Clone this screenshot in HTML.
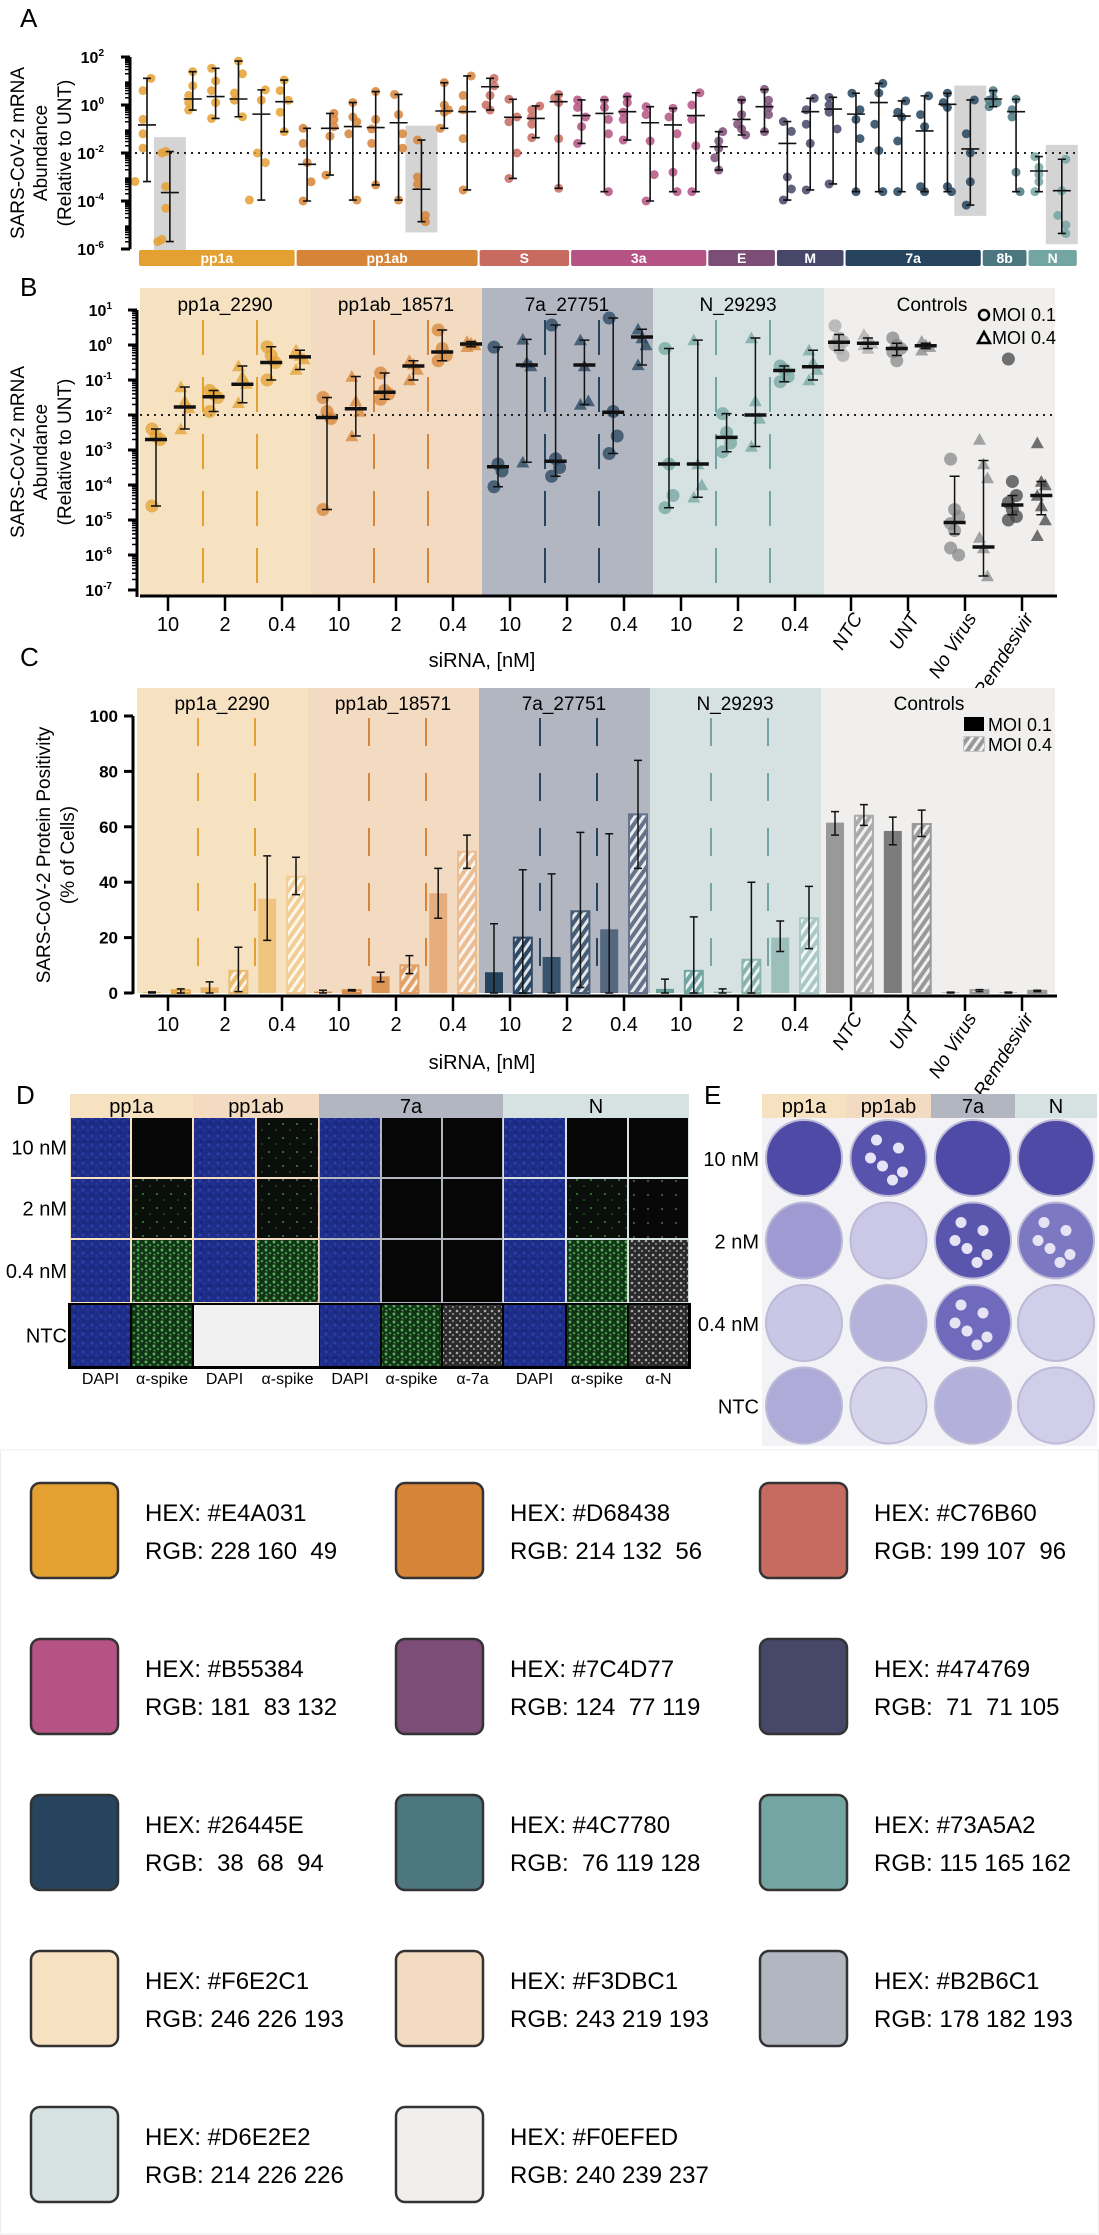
<!DOCTYPE html>
<html><head><meta charset="utf-8">
<style>
html,body{margin:0;padding:0;background:#fff;}
svg{display:block;font-family:"Liberation Sans",sans-serif;}
.n{font-family:"Liberation Sans Narrow","Liberation Sans",sans-serif;}
.pre{white-space:pre;}
</style></head>
<body>
<svg id="fig" width="1099" height="2235" viewBox="0 0 1099 2235" xmlns="http://www.w3.org/2000/svg">
<defs>
<pattern id="hatch" width="7" height="7" patternUnits="userSpaceOnUse" patternTransform="rotate(35)"><rect width="3" height="7" fill="#fff" fill-opacity="0.85"/></pattern>
<pattern id="dapi" width="9" height="9" patternUnits="userSpaceOnUse"><rect width="9" height="9" fill="#1d2c86"/><circle cx="2" cy="2" r="1.6" fill="#2a3ea6"/><circle cx="6.5" cy="5" r="1.4" fill="#24379a"/><circle cx="3" cy="7.5" r="1" fill="#14206a"/></pattern>
<pattern id="blk" width="9" height="9" patternUnits="userSpaceOnUse"><rect width="9" height="9" fill="#060606"/></pattern>
<pattern id="g1" width="14" height="14" patternUnits="userSpaceOnUse"><rect width="14" height="14" fill="#0b0f0b"/><circle cx="3" cy="4" r="1" fill="#3c8a3c"/><circle cx="10" cy="10" r="0.8" fill="#2f6f2f"/></pattern>
<pattern id="g2" width="8" height="8" patternUnits="userSpaceOnUse"><rect width="8" height="8" fill="#14301a"/><circle cx="2" cy="2" r="1.5" fill="#4caf4c"/><circle cx="6" cy="5" r="1.3" fill="#3a9a3a"/><circle cx="2.5" cy="6.5" r="0.9" fill="#5bc05b"/></pattern>
<pattern id="w0" width="14" height="14" patternUnits="userSpaceOnUse"><rect width="14" height="14" fill="#080808"/><circle cx="4" cy="5" r="0.9" fill="#777"/></pattern>
<pattern id="w2" width="7" height="7" patternUnits="userSpaceOnUse"><rect width="7" height="7" fill="#2a2a2a"/><circle cx="2" cy="2" r="1.3" fill="#aaa"/><circle cx="5" cy="5" r="1.1" fill="#888"/></pattern>
</defs>

<text x="20" y="27" font-size="26">A</text>
<text x="20" y="296" font-size="26">B</text>
<text x="20" y="666" font-size="26">C</text>
<text x="16" y="1104" font-size="26">D</text>
<text x="704" y="1104" font-size="26">E</text>

<g font-size="19" text-anchor="middle">
<text transform="translate(24,153) rotate(-90)">SARS-CoV-2 mRNA</text>
<text transform="translate(47,153) rotate(-90)">Abundance</text>
<text transform="translate(71,153) rotate(-90)">(Relative to UNT)</text>
</g>
<g font-size="19" text-anchor="middle">
<text transform="translate(24,452) rotate(-90)">SARS-CoV-2 mRNA</text>
<text transform="translate(47,452) rotate(-90)">Abundance</text>
<text transform="translate(71,452) rotate(-90)">(Relative to UNT)</text>
</g>
<g font-size="19" text-anchor="middle">
<text transform="translate(50,855) rotate(-90)">SARS-CoV-2 Protein Positivity</text>
<text transform="translate(74,855) rotate(-90)">(% of Cells)</text>
</g>
<text class="n" x="482" y="667" font-size="20" text-anchor="middle">siRNA, [nM]</text>
<text class="n" x="482" y="1069" font-size="20" text-anchor="middle">siRNA, [nM]</text>

<g id="gA"></g>
<g id="gB"></g>
<g id="gC"></g>
<g id="gD"></g>
<g id="gE"></g>

<g class="n" font-size="18">
<circle cx="984" cy="315" r="5" fill="none" stroke="#000" stroke-width="2.5"/>
<text x="992" y="321">MOI 0.1</text>
<path d="M978 343 L984 332 L990 343 Z" fill="none" stroke="#000" stroke-width="2.5"/>
<text x="992" y="344">MOI 0.4</text>
</g>
<g class="n" font-size="18">
<rect x="964" y="717" width="20" height="14" fill="#000"/>
<text x="988" y="731">MOI 0.1</text>
<rect x="964" y="737" width="20" height="14" fill="#999" stroke="#999"/>
<rect x="964" y="737" width="20" height="14" fill="url(#hatch)"/>
<text x="988" y="751">MOI 0.4</text>
</g>

<g id="gS">
<rect x="0.5" y="1450" width="1098" height="784" fill="none" stroke="#eee"/>
</g>
</svg>

<script>
// ---------- Panel A data ----------
const catsA = ['pp1a','pp1ab','S','3a','E','M','7a','8b','N'];
const catCountsA = [7,8,4,6,3,3,6,2,2];
const medA = [-0.83,-3.65,0.25,0.35,0.25,-0.38,0.14,-2.47,-0.97,-0.90,-0.94,-0.74,-3.51,-0.25,-0.28,0.76,-0.51,-0.56,0.14,-0.44,-0.35,-0.28,-0.74,-0.83,-0.44,-1.74,-0.60,-0.07,-1.60,-0.28,-0.17,-0.38,0.10,-0.46,-1.08,0.03,-1.83,0.25,-0.28,-2.75,-3.57];
const hiA = [1.11,-1.94,1.39,1.53,1.83,0.63,1.04,-0.97,-0.35,0.10,0.56,0.44,-1.46,0.93,1.21,1.11,0.24,-0.04,0.44,0.21,0.21,0.35,-0.07,-0.14,0.51,-1.11,0.21,0.65,-0.69,0.28,0.32,0.49,0.90,0.17,0.38,0.49,0.21,0.60,0.24,-2.15,-2.26];
const loA = [-3.19,-5.69,-0.21,-0.56,-0.49,-3.96,-1.11,-4.0,-2.92,-3.96,-3.33,-3.96,-4.86,-0.97,-3.54,-0.21,-3.06,-1.36,-3.47,-1.60,-3.61,-1.46,-4.0,-3.61,-3.61,-2.71,-1.25,-1.11,-3.96,-3.54,-3.29,-3.61,-3.61,-3.61,-3.61,-3.61,-4.17,-0.07,-3.61,-3.61,-5.35];
const ptsA = [
[1.11,0.6,-0.6,-1.2,-1.8,-3.19],[-1.94,-2.0,-3.4,-4.3,-5.69,-5.6],[1.39,0.8,0.4,0.1,-0.21],[1.53,1.0,0.6,0.1,-0.56],
[1.83,1.3,0.5,0.2,-0.49],[0.63,0.2,-2.0,-2.4,-3.96],[1.04,0.6,0.2,-0.3,-1.11],[-0.97,-1.6,-2.4,-3.2,-4.0],
[-0.35,-0.6,-0.9,-1.3,-2.92],[0.10,-0.5,-0.7,-1.2,-3.96],[0.56,-0.6,-1.0,-1.6,-3.33],[0.44,-0.4,-1.2,-1.8,-3.96],
[-1.46,-3.0,-3.3,-4.6,-4.86],[0.93,0.0,-0.2,-0.3,-0.97],[1.21,0.4,-0.2,-1.4,-3.54],[1.11,0.8,0.4,0.0,-0.21],
[0.24,-0.5,-0.7,-2.0,-3.06],[-0.04,-0.2,-0.5,-0.8,-1.36],[0.44,0.3,0.1,-1.4,-3.47],[0.21,-0.1,-0.5,-0.9,-1.60],
[0.21,-0.1,-0.6,-1.2,-3.61],[0.35,0.1,-0.3,-0.6,-1.46],[-0.07,-0.4,-1.5,-2.9,-4.0],[-0.14,-0.5,-1.2,-2.8,-3.61],
[0.51,0.0,-0.6,-1.7,-3.61],[-1.11,-1.5,-1.8,-2.2,-2.71],[0.21,-0.4,-0.8,-1.0,-1.25],[0.65,0.2,-0.1,-0.4,-1.11],
[-0.69,-1.1,-3.0,-3.5,-3.96],[0.28,-0.2,-0.8,-1.6,-3.54],[0.32,0.0,-0.3,-1.0,-3.29],[0.49,-0.2,-0.6,-1.4,-3.61],
[0.90,0.5,-0.8,-1.9,-3.61],[0.17,-0.3,-0.5,-1.5,-3.61],[0.38,-0.4,-0.9,-3.4,-3.61],[0.49,0.1,-0.1,-3.4,-3.61],
[0.21,-1.2,-2.0,-3.2,-4.17],[0.60,0.3,0.1,-0.07,0.2],[0.24,-0.2,-0.5,-2.8,-3.61],[-2.15,-2.6,-2.9,-3.2,-3.61],
[-2.26,-3.57,-4.6,-5.0,-5.35]];
const highlightA = [1,12,36,40];
const ticksA = [2,0,-2,-4,-6];
const thresholdA = -2;

// ---------- Panel B data ----------
const groupsB = ['pp1a_2290','pp1ab_18571','7a_27751','N_29293','Controls'];
const concLabels = ['10','2','0.4'];
const ctrlLabels = ['NTC','UNT','No Virus','Remdesivir'];
const medB = [-2.7,-1.77,-1.48,-1.12,-0.5,-0.34, -2.07,-1.82,-1.35,-0.6,-0.2,0.03, -3.48,-0.57,-3.32,-0.57,-1.92,0.23, -3.4,-3.4,-2.64,-2.0,-0.73,-0.62, 0.08,0.05,-0.1,-0.02,-5.07,-5.77,-4.57,-4.3];
const hiB = [-2.4,-1.2,-1.3,-0.6,-0.05,-0.15, -1.5,-0.9,-0.8,-0.45,0.43,0.1, -0.06,0.16,0.57,0.14,0.77,0.45, -0.1,0.14,-1.96,0.2,-0.6,-0.15, 0.3,0.2,0.05,0.05,-3.75,-3.3,-4.3,-3.9];
const loB = [-4.6,-2.4,-1.9,-1.65,-1.0,-0.7, -4.7,-2.6,-1.55,-1.0,-0.45,-0.05, -4.05,-3.35,-3.75,-1.7,-3.1,-0.57, -4.65,-4.35,-3.05,-2.9,-1.05,-1.0, -0.15,-0.1,-0.3,-0.1,-5.4,-6.6,-4.85,-4.85];
const ptsB = [
[-2.4,-2.6,-2.7,-4.6],[-1.2,-1.6,-1.8,-2.4],[-1.3,-1.4,-1.5,-1.9],[-0.6,-0.9,-1.1,-1.65],[-0.05,-0.3,-0.5,-1.0],[-0.15,-0.3,-0.4,-0.7],
[-1.5,-1.9,-2.1,-4.7],[-0.9,-1.6,-1.9,-2.6],[-0.8,-1.3,-1.4,-1.55],[-0.45,-0.55,-0.7,-1.0],[0.43,-0.1,-0.3,-0.45],[0.1,0.05,0.0,-0.05],
[-0.06,-3.4,-3.6,-4.05],[0.16,-0.5,-0.6,-3.35],[0.57,-3.25,-3.5,-3.75],[0.14,-0.6,-1.6,-1.7],[0.77,-1.9,-2.6,-3.1],[0.45,0.2,0.0,-0.57],
[-0.1,-3.4,-4.3,-4.65],[0.14,-3.4,-4.0,-4.35],[-1.96,-2.5,-2.8,-3.05],[0.2,-1.6,-2.1,-2.9],[-0.6,-0.7,-0.9,-1.05],[-0.15,-0.5,-0.7,-1.0],
[0.55,0.2,0.1,0.0,-0.1,-0.3],[0.3,0.15,0.05,0.0,-0.1],[0.2,0.0,-0.1,-0.2,-0.45],[0.1,0.0,-0.05,-0.15],
[-3.26,-4.7,-4.9,-5.1,-5.3,-6.0,-5.8],[-2.7,-3.4,-3.8,-5.5,-5.8,-6.6],[-0.4,-3.9,-4.3,-4.5,-4.7,-4.9,-5.0],[-2.8,-3.9,-4.0,-4.3,-4.6,-5.0,-5.45]];
const ticksB = [1,0,-1,-2,-3,-4,-5,-6,-7];

// ---------- Panel C data ----------
const valsC = [0.2,1,2,8,34,42, 0.5,1,6,10,36,51, 7.5,20,13,29.5,23,64.5, 1.5,8,0.5,12,20,27, 61.5,64,58.5,61,0.2,1,0.2,0.8];
const errLoC = [0,0,0,0.5,19,35.5, 0,0.7,4,7,27,45, 0,0,0,2,0,45, 0,0,0,0,15,16, 57,60.5,53.5,56.5,0,0.5,0,0.5];
const errHiC = [0.4,1.5,4,16.5,49.5,49, 1,1.2,7.5,13.5,45,57, 25,44.5,43,58,57.5,84, 5,27.5,1.5,40,26,38.5, 65.5,68,63.5,66,0.3,1.2,0.3,1];
const ticksC = [0,20,40,60,80,100];

// ---------- styles ----------
const colA = ['#E4A031','#D68438','#C76B60','#B55384','#7C4D77','#474769','#26445E','#4C7780','#73A5A2'];
const bandFill = ['#F6E2C1','#F3DBC1','#B2B6C1','#D6E2E2','#F0EFED'];
const lineCol = ['#E4A031','#D68438','#26445E','#73A5A2'];
const ptCol = ['#E4A031','#D68438','#26445E','#73A5A2'];
const ctrlPt = ['#aaa','#aaa','#888','#888','#888','#888','#444','#444'];
const barCol = ['#E4A031','#E6A94A','#E8B260','#ECBC70','#EFC47F','#F2CD94',
 '#D68438','#D98C46','#DD9656','#E0A066','#E5AE7C','#EABD93',
 '#26445E','#2E4A65','#3A536C','#475D75','#546880','#64738A',
 '#6AA09C','#73A5A2','#7FADAA','#8BB4B1','#9CBFBC','#ABC8C6',
 '#999','#aaa','#7c7c7c','#999','#999','#999','#999','#999'];

const NS='http://www.w3.org/2000/svg';
function mk(parent, tag, attrs){const e=document.createElementNS(NS,tag);for(const k in attrs)e.setAttribute(k,attrs[k]);parent.appendChild(e);return e;}
const gA=document.getElementById('gA'),gB=document.getElementById('gB'),gC=document.getElementById('gC'),gD=document.getElementById('gD'),gE=document.getElementById('gE'),gS=document.getElementById('gS');

// ===== Panel A =====
const yA=e=>105-24*e;
const xA=i=>147+i*22.87;
highlightA.forEach(i=>{
  const r=mk(gA,'rect',{x:xA(i)-16,y:yA(hiA[i]+0.6),width:32,height:yA(loA[i]-0.45)-yA(hiA[i]+0.6),fill:'#d4d4d4'});
  
  
});
let tl=mk(gA,'line',{x1:135,x2:1077,y1:yA(thresholdA),y2:yA(thresholdA),stroke:'#222','stroke-width':2,'stroke-dasharray':'2 5'});


let ci=0;
catsA.forEach((c,k)=>{
  const s=ci,e=ci+catCountsA[k]-1;
  const x0=(s===0?xA(0)-8:(xA(s-1)+xA(s))/2+1), x1=(e===40?xA(40)+15:(xA(e)+xA(e+1))/2-1);
  const r=mk(gA,'rect',{x:x0,y:250,width:x1-x0,height:16,fill:colA[k],rx:2});
  
  
  const t=mk(gA,'text',{x:(x0+x1)/2,y:263,'text-anchor':'middle','font-size':14,fill:'#fff','font-weight':'bold'});
  t.textContent=c;
  
  
  for(let i=s;i<=e;i++){
    ptsA[i].forEach(v=>{
      const p=mk(gA,'circle',{cx:xA(i)+((i*7+Math.round(v*10))%3-1)*4,cy:yA(v),r:4.5,fill:colA[k],'fill-opacity':0.85});
      
      
    });
    const w=mk(gA,'path',{d:`M${xA(i)} ${yA(hiA[i])}V${yA(loA[i])}M${xA(i)-4} ${yA(hiA[i])}h8M${xA(i)-4} ${yA(loA[i])}h8M${xA(i)-9} ${yA(medA[i])}h18`,stroke:'#111','stroke-width':1.6,fill:'none'});
    
    
  }
  ci+=catCountsA[k];
});
let ax=mk(gA,'line',{x1:130,x2:130,y1:yA(2),y2:yA(-6),stroke:'#000','stroke-width':3});


for(let d=-6;d<2;d++){for(let m=2;m<10;m++){const yy=yA(d+Math.log10(m));mk(gA,'line',{x1:125,x2:130,y1:yy,y2:yy,stroke:'#000','stroke-width':1.5});}}
ticksA.forEach(t=>{
  mk(gA,'line',{x1:121,x2:130,y1:yA(t),y2:yA(t),stroke:'#000','stroke-width':3});
  const tx=mk(gA,'text',{x:104,y:yA(t)+6,'text-anchor':'end','font-size':16,'font-weight':'bold',class:'n'});
  tx.textContent='10';
  const sp=mk(tx,'tspan',{dy:-7,'font-size':10});sp.textContent=String(t);
  
  
});

// ===== Panel B =====
const yB=e=>345-35*e;
const bandX=g=>140+g*171;
const xB=i=>i<24?bandX(Math.floor(i/6))+16+(i%6)*28.8:839+(i-24)*28.9;
groupsB.forEach((g,k)=>{
  const x0=bandX(k),w=(k<4?171:231);
  const r=mk(gB,'rect',{x:x0,y:288,width:w,height:307,fill:bandFill[k]});
  
  
  const t=mk(gB,'text',{x:x0+(k<4?85:108),y:311,'text-anchor':'middle','font-size':19,class:'n'});t.textContent=g;
  
  
  if(k<4){[0,1].forEach(j=>{
    const l=mk(gB,'line',{x1:x0+63+j*54,x2:x0+63+j*54,y1:320,y2:590,stroke:lineCol[k],'stroke-width':2,'stroke-dasharray':'35 22'});
    
    
  });}
});
let th=mk(gB,'line',{x1:140,x2:1057,y1:yB(-2),y2:yB(-2),stroke:'#222','stroke-width':2,'stroke-dasharray':'2 5'});


function marker(g,x,y,tri,col,r){
  if(tri) return mk(g,'path',{d:`M${x-r} ${y+r*0.8}L${x} ${y-r}L${x+r} ${y+r*0.8}Z`,fill:col,'fill-opacity':0.75});
  return mk(g,'circle',{cx:x,cy:y,r:r,fill:col,'fill-opacity':0.75});
}
for(let i=0;i<32;i++){
  const tri=i%2===1;
  const col=i<24?ptCol[Math.floor(i/6)]:ctrlPt[i-24];
  ptsB[i].forEach((v,j)=>{
    const m=marker(gB,xB(i)+((j%3)-1)*4,yB(v),tri,col,6.5);
    
    
  });
  const x=xB(i);
  const w=mk(gB,'path',{d:`M${x} ${yB(hiB[i])}V${yB(loB[i])}M${x-5} ${yB(hiB[i])}h10M${x-5} ${yB(loB[i])}h10`,stroke:'#111','stroke-width':1.5,fill:'none'});
  
  
  const md=mk(gB,'line',{x1:x-11,x2:x+11,y1:yB(medB[i]),y2:yB(medB[i]),stroke:'#111','stroke-width':3.5});
  
  
}
function xAxis(g,y,pref,offs){
  const a=mk(g,'line',{x1:140,x2:1057,y1:y,y2:y,stroke:'#000','stroke-width':3});
  
  
  let ticks=[];
  for(let k=0;k<4;k++)for(let j=0;j<3;j++)ticks.push([bandX(k)+28+j*57-offs,concLabels[j],false]);
  for(let j=0;j<4;j++)ticks.push([851+j*57-offs,ctrlLabels[j],true]);
  ticks.forEach(t=>{
    mk(g,'line',{x1:t[0],x2:t[0],y1:y,y2:y+15,stroke:'#000','stroke-width':2.5});
    let tx;
    if(!t[2]){tx=mk(g,'text',{x:t[0],y:y+35,'text-anchor':'middle','font-size':20,class:'n'});}
    else{tx=mk(g,'text',{x:0,y:0,'text-anchor':'end','font-size':19,'font-style':'italic',class:'n',transform:`translate(${t[0]+12},${y+22}) rotate(-58)`});}
    tx.textContent=t[1];
    
    
  });
}
xAxis(gB,596,'b',0);
let bax=mk(gB,'line',{x1:137,x2:137,y1:yB(1),y2:597,stroke:'#000','stroke-width':3});


for(let d=-7;d<1;d++){for(let m=2;m<10;m++){const yy=yB(d+Math.log10(m));mk(gB,'line',{x1:132,x2:137,y1:yy,y2:yy,stroke:'#000','stroke-width':1.5});}}
ticksB.forEach(t=>{
  mk(gB,'line',{x1:128,x2:137,y1:yB(t),y2:yB(t),stroke:'#000','stroke-width':3});
  const tx=mk(gB,'text',{x:112,y:yB(t)+6,'text-anchor':'end','font-size':16,'font-weight':'bold',class:'n'});
  tx.textContent='10';
  const sp=mk(tx,'tspan',{dy:-7,'font-size':10});sp.textContent=String(t);
  
  
});

// ===== Panel C =====
const yC=v=>993-v*2.77;
const xC=i=>xB(i)-4;
groupsB.forEach((g,k)=>{
  const x0=bandX(k)-3,w=(k<4?171:234);
  const r=mk(gC,'rect',{x:x0,y:688,width:w,height:305,fill:bandFill[k]});
  
  
  const t=mk(gC,'text',{x:x0+(k<4?85:108),y:710,'text-anchor':'middle','font-size':19,class:'n'});t.textContent=g;
  
  
  if(k<4){[0,1].forEach(j=>{
    const l=mk(gC,'line',{x1:x0+61+j*57,x2:x0+61+j*57,y1:718,y2:990,stroke:lineCol[k],'stroke-width':2,'stroke-dasharray':'28 27'});
    
    
  });}
});
for(let i=0;i<32;i++){
  const x=xC(i),v=valsC[i],hatched=i%2===1;
  const b=mk(gC,'rect',{x:x-9,y:yC(v),width:18,height:Math.max(0.5,yC(0)-yC(v)),fill:barCol[i],stroke:barCol[i],'stroke-width':hatched?2:0});
  
  
  if(hatched){const h=mk(gC,'rect',{x:x-8,y:yC(v)+1,width:16,height:Math.max(0,yC(0)-yC(v)-2),fill:'url(#hatch)'});
    
    }
  const e=mk(gC,'path',{d:`M${x} ${yC(errHiC[i])}V${yC(errLoC[i])}M${x-4} ${yC(errHiC[i])}h8M${x-4} ${yC(errLoC[i])}h8`,stroke:'#111','stroke-width':1.5,fill:'none'});
  
  
}
xAxis(gC,996,'c',0);
let cax=mk(gC,'line',{x1:133,x2:133,y1:yC(100),y2:yC(0)+1,stroke:'#000','stroke-width':3});


ticksC.forEach(t=>{
  mk(gC,'line',{x1:124,x2:133,y1:yC(t),y2:yC(t),stroke:'#000','stroke-width':3});
  const tx=mk(gC,'text',{x:118,y:yC(t)+6,'text-anchor':'end','font-size':17,'font-weight':'bold',class:'n'});
  tx.textContent=String(t);
  
  
});

// ===== Panel D =====
const dGroups=[['pp1a',70,193,'#F6E2C1'],['pp1ab',193,319,'#F3DBC1'],['7a',319,503,'#B2B6C1'],['N',503,689,'#D6E2E2']];
dGroups.forEach(g=>{
  mk(gD,'rect',{x:g[1],y:1094,width:g[2]-g[1],height:274,fill:g[3]});
  const t=mk(gD,'text',{x:(g[1]+g[2])/2,y:1113,'text-anchor':'middle','font-size':20,class:'n'});t.textContent=g[0];
  
  
});
const dCols=[[70,131],[131,193],[193,256],[256,319],[319,381],[381,442],[442,503],[503,566],[566,628],[628,689]];
const dRows=[['10 nM',1118,1177],['2 nM',1179,1238],['0.4 nM',1240,1302],['NTC',1305,1366]];
const dFill=[['dapi','blk','dapi','g1','dapi','blk','blk','dapi','blk','blk'],
 ['dapi','g1','dapi','g1','dapi','blk','blk','dapi','g1','w0'],
 ['dapi','g2','dapi','g2','dapi','blk','blk','dapi','g2','w2'],
 ['dapi','g2','none','none','dapi','g2','w2','dapi','g2','w2']];
mk(gD,'rect',{x:68,y:1303,width:623,height:66,fill:'#000'});
dRows.forEach((r,ri)=>{
  const t=mk(gD,'text',{x:67,y:(r[1]+r[2])/2+7,'text-anchor':'end','font-size':20,class:'n'});t.textContent=r[0];
  
  
  dCols.forEach((c,cj)=>{
    const f=dFill[ri][cj];
    if(f==='none')return;
    const im=mk(gD,'rect',{x:c[0]+1,y:r[1],width:c[1]-c[0]-2,height:r[2]-r[1],fill:'url(#'+f+')'});
    
    
  });
});
mk(gD,'rect',{x:194,y:1305,width:125,height:61,fill:'#f0f0f0'});
const dLab=['DAPI','α-spike','DAPI','α-spike','DAPI','α-spike','α-7a','DAPI','α-spike','α-N'];
dLab.forEach((l,j)=>{const t=mk(gD,'text',{x:(dCols[j][0]+dCols[j][1])/2,y:1384,'text-anchor':'middle','font-size':16,class:'n'});t.textContent=l;
  
  });

// ===== Panel E =====
const eCols=[['pp1a',762,846,'#F6E2C1'],['pp1ab',846,931,'#F3DBC1'],['7a',931,1015,'#B2B6C1'],['N',1015,1097,'#D6E2E2']];
const eRows=[['10 nM',1118,1198],['2 nM',1200,1281],['0.4 nM',1283,1363],['NTC',1365,1446]];
const plateFill=[['#4f4aa6','#5853ac','#4f4aa6','#4f4aa6'],['#9f9bd2','#cac8e6','#5a55ad','#7d78c2'],['#c9c7e6','#b5b2dc','#6f6abb','#d0cee9'],['#aeabd9','#d6d4eb','#b3b0dc','#d0cee9']];
const spots=[[0,1],[1,2],[1,3],[2,2]];
mk(gE,'rect',{x:762,y:1118,width:335,height:328,fill:'#f3f2f6'});
eCols.forEach(c=>{
  mk(gE,'rect',{x:c[1],y:1094,width:c[2]-c[1],height:24,fill:c[3]});
  const t=mk(gE,'text',{x:(c[1]+c[2])/2,y:1113,'text-anchor':'middle','font-size':20,class:'n'});t.textContent=c[0];
  
  
});
eRows.forEach((r,ri)=>{
  const t=mk(gE,'text',{x:759,y:(r[1]+r[2])/2+8,'text-anchor':'end','font-size':20,class:'n'});t.textContent=r[0];
  
  
  eCols.forEach((c,cj)=>{
    const cx=(c[1]+c[2])/2,cy=(r[1]+r[2])/2;
    const p=mk(gE,'circle',{cx:cx,cy:cy,r:38,fill:plateFill[ri][cj],stroke:'#bcbad6','stroke-width':2});
    
    
    if(spots.some(s=>s[0]===ri&&s[1]===cj)){
      [[-12,-18],[10,-10],[-6,8],[14,14],[-18,0],[4,22]].forEach(d=>mk(gE,'circle',{cx:cx+d[0],cy:cy+d[1],r:5.5,fill:'#e6e4f4'}));
    }
  });
});

// ===== Swatches =====
const swHex=['E4A031','D68438','C76B60','B55384','7C4D77','474769','26445E','4C7780','73A5A2','F6E2C1','F3DBC1','B2B6C1','D6E2E2','F0EFED'];
const swRgb=['228 160  49','214 132  56','199 107  96','181  83 132','124  77 119',' 71  71 105',' 38  68  94',' 76 119 128','115 165 162','246 226 193','243 219 193','178 182 193','214 226 226','240 239 237'];
swHex.forEach((h,i)=>{
  const x=[31,396,760][i%3],y=1483+Math.floor(i/3)*156;
  const r=mk(gS,'rect',{x:x,y:y,width:87,height:95,rx:9,fill:'#'+h,stroke:'#333','stroke-width':2.5});
  
  
  const t1=mk(gS,'text',{x:x+114,y:y+38,'font-size':24,class:'pre'});t1.textContent='HEX: #'+h;
  
  
  const t2=mk(gS,'text',{x:x+114,y:y+76,'font-size':24,class:'pre'});t2.textContent='RGB: '+swRgb[i];
  
  
});
</script>
</body></html>
